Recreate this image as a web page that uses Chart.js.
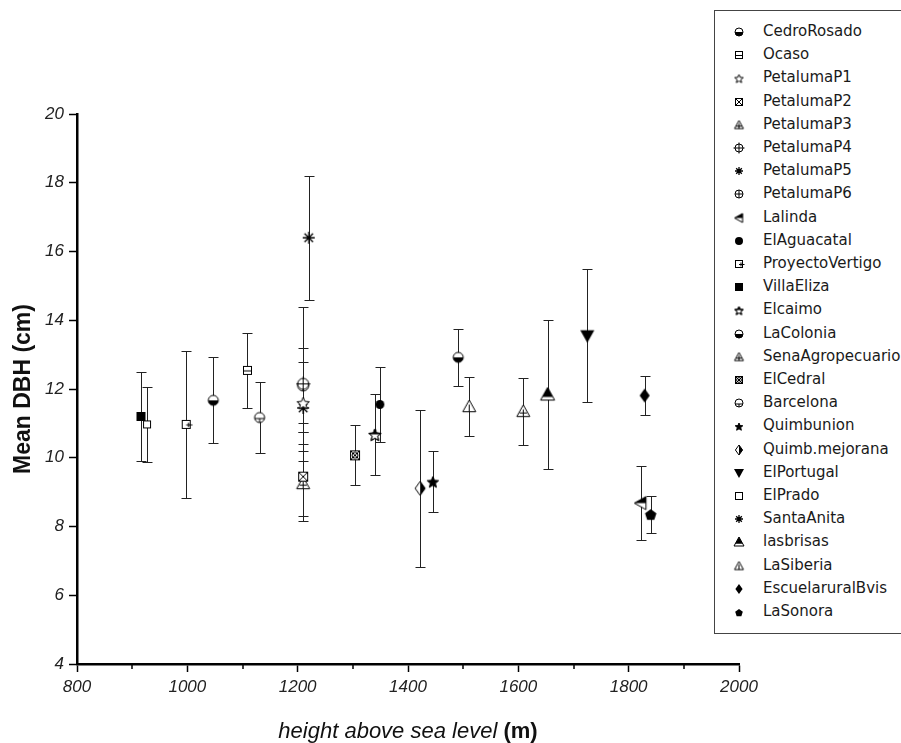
<!DOCTYPE html>
<html>
<head>
<meta charset="utf-8">
<script src="https://cdn.jsdelivr.net/npm/chart.js@4.4.1/dist/chart.umd.min.js"></script>
<style>
  html, body { margin: 0; padding: 0; background: #fff; }
  #wrap { position: relative; width: 901px; height: 743px; overflow: hidden; }
  #legend { position: absolute; left: 714px; top: 10px; width: 210px; height: 624px;
            border: 1px solid #444; box-sizing: border-box; background: #fff; }
  .item { position: absolute; left: 0; height: 20px; line-height: 20px;
          font: 15px 'DejaVu Sans', sans-serif; color: #1a1a1a; white-space: nowrap; }
  .item canvas { position: absolute; top: 50%; transform: translate(-50%, -50%); left: 24px; }
  .item span { position: absolute; left: 48px; }
  #xtitle { position: absolute; left: 77px; width: 662px; top: 718px; text-align: center;
            font: italic 22px 'Liberation Sans', Arial, sans-serif; color: #111; }
  #xtitle b { font-style: normal; }
</style>
</head>
<body>
<div id="wrap">
  <canvas id="dbhChart" width="901" height="743"></canvas>
  <div id="legend"></div>
  <div id="xtitle">height above sea level <b>(m)</b></div>
</div>
<script>
// Sites (legend order)
const sites = ['CedroRosado', 'Ocaso', 'PetalumaP1', 'PetalumaP2', 'PetalumaP3', 'PetalumaP4',
    'PetalumaP5', 'PetalumaP6', 'Lalinda', 'ElAguacatal', 'ProyectoVertigo', 'VillaEliza',
    'Elcaimo', 'LaColonia', 'SenaAgropecuario', 'ElCedral', 'Barcelona', 'Quimbunion',
    'Quimb.mejorana', 'ElPortugal', 'ElPrado', 'SantaAnita', 'lasbrisas', 'LaSiberia',
    'EscuelaruralBvis', 'LaSonora'];

// height above sea level (m)
const altitude = [1047, 1109, 1210, 1210, 1210, 1210, 1210, 1210, 1822, 1349, 998, 916,
    1340, 1491, 1609, 1304, 1131, 1445, 1422, 1725, 927, 1220, 1653, 1511, 1829, 1840];

// mean DBH (cm) and error bar half-length
const meanDBH = [11.67, 12.54, 11.6, 9.45, 9.25, 12.15, 11.45, 12.1, 8.68, 11.55, 10.97, 11.2,
    10.68, 12.92, 11.35, 10.07, 11.17, 9.31, 9.11, 13.55, 10.97, 16.4, 11.84, 11.49, 11.81, 8.36];
const errDBH = [1.25, 1.1, 1.2, 1.3, 0.95, 2.25, 0.7, 1.1, 1.07, 1.1, 2.15, 1.3,
    1.18, 0.83, 0.98, 0.87, 1.03, 0.9, 2.28, 1.93, 1.1, 1.8, 2.16, 0.87, 0.57, 0.54];

// Axis ticks
const xTicks = [800, 1000, 1200, 1400, 1600, 1800, 2000];
const xMinorTicks = [900, 1100, 1300, 1500, 1700, 1900];
const yTicks = [4, 6, 8, 10, 12, 14, 16, 18, 20];

// Marker shape per site
const markerKinds = ['halfCircle', 'sqLine', 'starOpen', 'sqX', 'triPlus', 'circCross',
    'asterisk', 'circPlus', 'triLeftHalf', 'circFill', 'sqPlus', 'sqFill',
    'starHalf', 'halfCircle', 'triPlus', 'sqCircX', 'circLowPlus', 'starFill',
    'diamondHalf', 'triDown', 'sqOpen', 'asterisk', 'triTopFill', 'triOpen',
    'diamondFill', 'pentagon'];
const markerSizes = {
    halfCircle: 10, sqLine: 9, starOpen: 13, sqX: 10, triPlus: 13, circCross: 11,
    asterisk: 12, circPlus: 11, triLeftHalf: 13, circFill: 9, sqPlus: 9, sqFill: 9,
    starHalf: 13, sqCircX: 10, circLowPlus: 10, starFill: 12, diamondHalf: 14, triDown: 14,
    sqOpen: 8, triTopFill: 14, triOpen: 13, diamondFill: 14, pentagon: 12
};

function starPath(g, m, r) {
    g.beginPath();
    for (let i = 0; i < 10; i++) {
        const a = -Math.PI / 2 + i * Math.PI / 5;
        const rr = i % 2 ? r * 0.45 : r;
        g.lineTo(m + rr * Math.cos(a), m + 1 + rr * Math.sin(a));
    }
    g.closePath();
}

function polyPath(g, pts) {
    g.beginPath();
    pts.forEach(p => g.lineTo(p[0], p[1]));
    g.closePath();
}

// Draw one marker into a little canvas, used as pointStyle
function makeMarker(kind, size) {
    const c = document.createElement('canvas');
    c.width = c.height = size + 4;
    const g = c.getContext('2d');
    const m = c.width / 2, r = size / 2;
    g.lineWidth = 1;
    g.strokeStyle = '#000';
    g.fillStyle = '#fff';
    const black = '#000';
    const triUp = [[m, m - r], [m + r, m + r * 0.8], [m - r, m + r * 0.8]];
    const diamond = [[m, m - r], [m + r * 0.72, m], [m, m + r], [m - r * 0.72, m]];

    switch (kind) {
        case 'halfCircle':
            g.beginPath(); g.arc(m, m, r, 0, Math.PI * 2); g.fill();
            g.beginPath(); g.arc(m, m, r, 0, Math.PI); g.fillStyle = black; g.fill();
            g.beginPath(); g.arc(m, m, r, 0, Math.PI * 2); g.stroke();
            break;
        case 'circFill':
            g.beginPath(); g.arc(m, m, r, 0, Math.PI * 2); g.fillStyle = black; g.fill();
            break;
        case 'circPlus':
        case 'circCross':
        case 'circLowPlus':
            g.beginPath(); g.arc(m, m, r, 0, Math.PI * 2); g.fill(); g.stroke();
            g.beginPath();
            if (kind === 'circLowPlus') {
                g.moveTo(m - r, m + 1); g.lineTo(m + r, m + 1);
                g.moveTo(m, m + 1); g.lineTo(m, m + r);
            } else {
                const e = kind === 'circCross' ? r + 1.5 : r;
                g.moveTo(m - e, m); g.lineTo(m + e, m);
                g.moveTo(m, m - e); g.lineTo(m, m + e);
            }
            g.stroke();
            break;
        case 'sqOpen':
        case 'sqLine':
        case 'sqPlus':
        case 'sqX':
        case 'sqCircX':
            g.fillRect(m - r, m - r, size, size);
            g.strokeRect(Math.round(m - r) + 0.5, Math.round(m - r) + 0.5, size - 1, size - 1);
            g.beginPath();
            if (kind === 'sqLine') { g.moveTo(m - r, m + 0.5); g.lineTo(m + r, m + 0.5); }
            if (kind === 'sqPlus') {
                g.moveTo(m, m + 0.5); g.lineTo(m + r + 1.5, m + 0.5);
                g.moveTo(m + r * 0.5, m - r * 0.4); g.lineTo(m + r * 0.5, m + r * 0.6);
            }
            if (kind === 'sqX' || kind === 'sqCircX') {
                g.moveTo(m - r, m - r); g.lineTo(m + r, m + r);
                g.moveTo(m + r, m - r); g.lineTo(m - r, m + r);
            }
            g.stroke();
            if (kind === 'sqCircX') {
                g.beginPath(); g.arc(m, m, r * 0.6, 0, Math.PI * 2); g.stroke();
            }
            break;
        case 'sqFill':
            g.fillStyle = black; g.fillRect(m - r, m - r, size, size);
            break;
        case 'starOpen':
        case 'starHalf':
        case 'starFill':
            starPath(g, m, r);
            g.fillStyle = kind === 'starFill' ? black : '#fff';
            g.fill(); g.stroke();
            if (kind === 'starHalf') {
                g.save(); starPath(g, m, r); g.clip();
                g.fillStyle = black; g.fillRect(0, 0, c.width, m);
                g.restore();
                starPath(g, m, r); g.stroke();
            }
            break;
        case 'triPlus':
        case 'triOpen':
            polyPath(g, triUp); g.fill(); g.stroke();
            g.beginPath();
            g.moveTo(m, m - r * 0.3); g.lineTo(m, m + r * 0.8);
            if (kind === 'triPlus') { g.moveTo(m - r * 0.55, m + r * 0.25); g.lineTo(m + r * 0.55, m + r * 0.25); }
            g.stroke();
            break;
        case 'triTopFill':
            polyPath(g, triUp); g.fill();
            g.save(); polyPath(g, triUp); g.clip();
            g.fillStyle = black; g.fillRect(0, 0, c.width, m + r * 0.35);
            g.restore();
            polyPath(g, triUp); g.stroke();
            break;
        case 'triDown':
            polyPath(g, [[m - r, m - r * 0.8], [m + r, m - r * 0.8], [m, m + r]]);
            g.fillStyle = black; g.fill();
            break;
        case 'triLeftHalf': {
            const pts = [[m - r, m], [m + r * 0.8, m - r], [m + r * 0.8, m + r]];
            polyPath(g, pts); g.fill();
            g.save(); polyPath(g, pts); g.clip();
            g.fillStyle = black; g.fillRect(0, 0, c.width, m);
            g.restore();
            polyPath(g, pts); g.stroke();
            break;
        }
        case 'diamondHalf':
            polyPath(g, diamond); g.fill();
            g.save(); polyPath(g, diamond); g.clip();
            g.fillStyle = black; g.fillRect(m, 0, c.width, c.height);
            g.restore();
            polyPath(g, diamond); g.stroke();
            break;
        case 'diamondFill':
            polyPath(g, diamond); g.fillStyle = black; g.fill();
            break;
        case 'pentagon': {
            const pts = [];
            for (let i = 0; i < 5; i++) {
                const a = -Math.PI / 2 + i * 2 * Math.PI / 5;
                pts.push([m + r * Math.cos(a), m + 1 + r * Math.sin(a)]);
            }
            polyPath(g, pts); g.fillStyle = black; g.fill();
            break;
        }
        case 'asterisk':
            g.lineWidth = 1.3;
            g.beginPath();
            for (let i = 0; i < 4; i++) {
                const a = i * Math.PI / 4;
                g.moveTo(m - r * Math.cos(a), m - r * Math.sin(a));
                g.lineTo(m + r * Math.cos(a), m + r * Math.sin(a));
            }
            g.stroke();
            break;
    }
    return c;
}

// Error bars drawn through the chart scales
const errorBars = {
    id: 'errorBars',
    beforeDatasetsDraw(chart) {
        const { ctx, scales: { x, y } } = chart;
        ctx.save();
        ctx.strokeStyle = '#222';
        ctx.lineWidth = 1;
        sites.forEach((s, i) => {
            const px = Math.round(x.getPixelForValue(altitude[i])) + 0.5;
            const top = Math.round(y.getPixelForValue(meanDBH[i] + errDBH[i])) + 0.5;
            const bot = Math.round(y.getPixelForValue(meanDBH[i] - errDBH[i])) + 0.5;
            ctx.beginPath();
            ctx.moveTo(px, top); ctx.lineTo(px, bot);
            ctx.moveTo(px - 5, top); ctx.lineTo(px + 5, top);
            ctx.moveTo(px - 5, bot); ctx.lineTo(px + 5, bot);
            ctx.stroke();
        });
        ctx.restore();
    }
};

// Short minor ticks on the x axis
const minorTicks = {
    id: 'minorTicks',
    afterDraw(chart) {
        const { ctx, scales: { x } } = chart;
        ctx.save();
        ctx.strokeStyle = '#000';
        ctx.lineWidth = 1.5;
        xMinorTicks.forEach(v => {
            const px = Math.round(x.getPixelForValue(v));
            ctx.beginPath();
            ctx.moveTo(px, x.top); ctx.lineTo(px, x.top + 5);
            ctx.stroke();
        });
        ctx.restore();
    }
};

Chart.defaults.font.family = 'Liberation Sans';
Chart.defaults.font.style = 'italic';
const tickFont = { family: 'Liberation Sans', size: 17, style: 'italic', weight: 'normal' };

const datasets = sites.map((name, i) => ({
    label: name,
    data: [{ x: altitude[i], y: meanDBH[i] }],
    pointStyle: makeMarker(markerKinds[i], markerSizes[markerKinds[i]]),
    pointRadius: 6,
    showLine: false
}));

const ctx = document.getElementById('dbhChart').getContext('2d');
const dbhChart = new Chart(ctx, {
    type: 'scatter',
    data: { datasets: datasets },
    options: {
        responsive: false,
        animation: false,
        layout: { padding: { top: 114, right: 162, left: 0, bottom: 0 } },
        plugins: { legend: { display: false }, tooltip: { enabled: false } },
        scales: {
            x: {
                type: 'linear', min: xTicks[0], max: xTicks[xTicks.length - 1],
                afterBuildTicks: s => { s.ticks = xTicks.map(v => ({ value: v })); },
                ticks: { font: tickFont, color: '#222', padding: 5, maxRotation: 0,
                         callback: v => String(v) },
                grid: { drawOnChartArea: false, tickLength: 8, tickColor: '#000', tickWidth: 1.5 },
                border: { color: '#000', width: 2.5 },
                afterFit: s => { s.height = 79; }
            },
            y: {
                min: yTicks[0], max: yTicks[yTicks.length - 1],
                afterBuildTicks: s => { s.ticks = yTicks.map(v => ({ value: v })); },
                ticks: { font: tickFont, color: '#222', padding: 5, callback: v => String(v) },
                grid: { drawOnChartArea: false, tickLength: 8, tickColor: '#000', tickWidth: 1.5 },
                border: { color: '#000', width: 2.5 },
                title: {
                    display: true, text: 'Mean DBH (cm)', color: '#111',
                    font: { family: 'Liberation Sans', size: 23, weight: 'bold', style: 'normal' },
                    padding: { top: 10, bottom: 0 }
                },
                afterFit: s => { s.width = 77; }
            }
        }
    },
    plugins: [errorBars, minorTicks]
});

// HTML legend built from the datasets
const legendBox = document.getElementById('legend');
dbhChart.data.datasets.forEach((ds, i) => {
    const row = document.createElement('div');
    row.className = 'item';
    row.style.top = (22 + i * 23.2 - 10 - 1) + 'px';
    const kind = markerKinds[i];
    row.appendChild(makeMarker(kind, Math.max(8, Math.round(markerSizes[kind] * 0.7))));
    const label = document.createElement('span');
    label.textContent = ds.label;
    row.appendChild(label);
    legendBox.appendChild(row);
});
</script>
</body>
</html>
